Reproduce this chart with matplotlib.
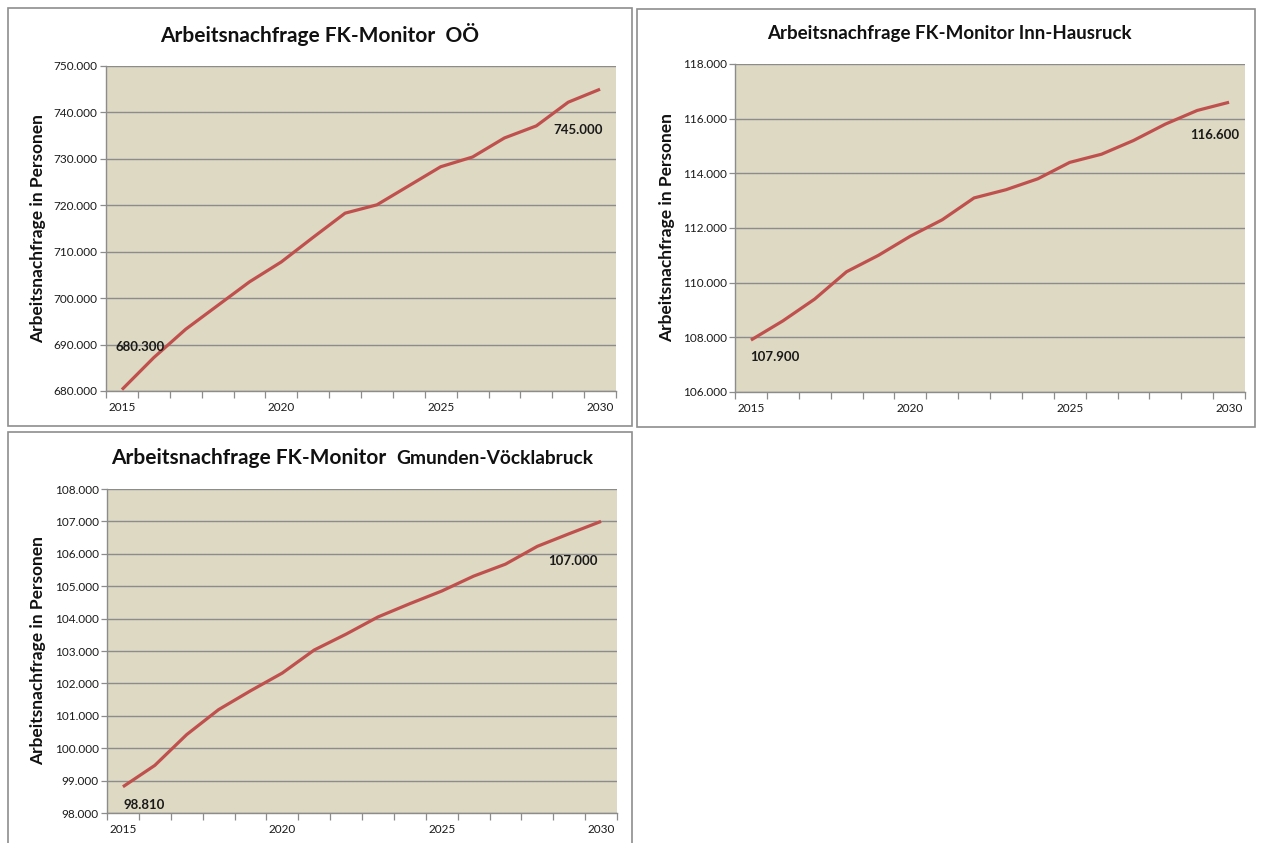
import matplotlib
matplotlib.use("Agg")
import matplotlib.pyplot as plt
from matplotlib.patches import Rectangle
from matplotlib.ticker import FuncFormatter, FixedLocator

plt.rcParams['font.family'] = ['Lato', 'DejaVu Sans']

years = list(range(2015, 2031))
year_labels = ["2015", "2020", "2025", "2030"]

# Arbeitsnachfrage in Personen
ooe = [680300, 687200, 693300, 698400, 703500, 707800, 713100, 718300,
       720100, 724200, 728300, 730400, 734500, 737100, 742200, 745000]
inn_hausruck = [107900, 108600, 109400, 110400, 111000, 111700, 112300, 113100,
                113400, 113800, 114400, 114700, 115200, 115800, 116300, 116600]
gmunden_voecklabruck = [98810, 99470, 100420, 101190, 101770, 102320, 103030, 103520,
                        104050, 104460, 104850, 105310, 105680, 106230, 106620, 107000]

ooe_ticks = [680000, 690000, 700000, 710000, 720000, 730000, 740000, 750000]
inn_ticks = [106000, 108000, 110000, 112000, 114000, 116000, 118000]
gv_ticks = [98000, 99000, 100000, 101000, 102000, 103000, 104000, 105000,
            106000, 107000, 108000]

W, H = 1261, 843
fig = plt.figure(figsize=(W / 100, H / 100), dpi=100)
fig.patch.set_facecolor("white")

LINE = "#C0504D"
BG = "#DDD9C3"
GRID = "#8C8C8C"
FRAME = "#8E8E8E"


def thousands(v, _pos=None):
    return f"{v:,.0f}".replace(",", ".")


def frame(x0, y0, x1, y1):
    fig.patches.append(Rectangle((x0 / W, 1 - y1 / H), (x1 - x0) / W, (y1 - y0) / H,
                                 transform=fig.transFigure, fill=False,
                                 edgecolor=FRAME, linewidth=1.2, zorder=0))


def panel(px, values, yticks, first_off, last_off, ylabel_x):
    left, top, right, bottom = px
    ax = fig.add_axes([left / W, 1 - bottom / H, (right - left) / W, (bottom - top) / H])
    ax.set_facecolor(BG)
    idx = list(range(len(values)))
    ax.plot(idx, values, color=LINE, linewidth=2.3, solid_capstyle="butt", zorder=3)
    ax.set_xlim(-0.5, len(values) - 0.5)
    ax.set_ylim(yticks[0], yticks[-1])

    ax.yaxis.set_major_locator(FixedLocator(yticks))
    ax.yaxis.set_major_formatter(FuncFormatter(thousands))
    ax.grid(axis="y", color=GRID, linewidth=1.0, zorder=1)
    ax.set_axisbelow(True)

    # tick marks between categories, labels every five years
    ax.xaxis.set_major_locator(FixedLocator([i - 0.5 for i in range(len(values) + 1)]))
    ax.xaxis.set_major_formatter(FuncFormatter(lambda v, p: ""))
    ax.xaxis.set_minor_locator(FixedLocator([years.index(int(y)) for y in year_labels]))
    ax.set_xticklabels(year_labels, minor=True)
    ax.tick_params(axis="x", which="major", length=5, width=0.9, color=GRID, direction="out")
    ax.tick_params(axis="x", which="minor", length=0, pad=8, labelsize=8.5, labelcolor="#1a1a1a")
    ax.tick_params(axis="y", length=4, width=0.9, color=GRID, direction="out",
                   labelsize=8.5, labelcolor="#1a1a1a", pad=2)

    for s in ("top", "right"):
        ax.spines[s].set_visible(False)
    for s in ("left", "bottom"):
        ax.spines[s].set_color(GRID)
        ax.spines[s].set_linewidth(1.0)

    for i, off in ((0, first_off), (len(values) - 1, last_off)):
        ax.annotate(thousands(values[i]), (i, values[i]), xytext=off,
                    textcoords="offset pixels", ha="center", va="center",
                    fontsize=9.5, fontweight="bold", color="#1a1a1a", zorder=4)

    fig.text(ylabel_x / W, 1 - ((top + bottom) / 2) / H, "Arbeitsnachfrage in Personen",
             rotation=90, ha="center", va="center", fontsize=12.5, fontweight="bold",
             color="#111111")
    return ax


# frames around each chart
frame(8, 8, 632, 426)
frame(637, 9, 1255, 427)
frame(8, 432, 632, 860)

panel((106, 66, 616, 391), ooe, ooe_ticks, (18, 43), (-22, -41), 38)
panel((735, 64, 1245, 392), inn_hausruck, inn_ticks, (24, -17), (-14, -33), 667)
panel((107, 489, 617, 813), gmunden_voecklabruck, gv_ticks, (21, -18), (-28, -40), 38)

fig.text(320 / W, 1 - 35 / H, "Arbeitsnachfrage FK-Monitor  OÖ", ha="center", va="center",
         fontsize=15, fontweight="bold", color="#111111")
fig.text(949 / W, 1 - 34 / H, "Arbeitsnachfrage FK-Monitor Inn-Hausruck", ha="center",
         va="center", fontsize=13.5, fontweight="bold", color="#111111")
fig.text(386 / W, 1 - 458 / H, "Arbeitsnachfrage FK-Monitor", ha="right", va="center",
         fontsize=15, fontweight="bold", color="#111111")
fig.text(396 / W, 1 - 458 / H, "Gmunden-Vöcklabruck", ha="left", va="center",
         fontsize=13.8, fontweight="bold", color="#111111")

fig.savefig("out.png", dpi=100, facecolor="white")
